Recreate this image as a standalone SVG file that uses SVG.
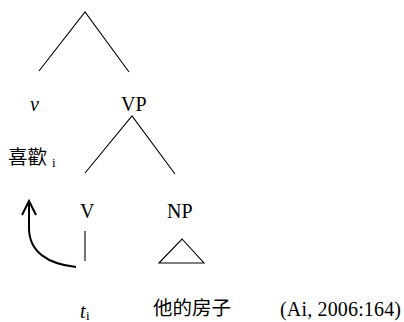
<svg xmlns="http://www.w3.org/2000/svg" width="404" height="322" viewBox="0 0 404 322">
<style>
.t{font-family:"Liberation Serif","Noto Sans CJK SC",serif;font-size:20px;fill:#000}
.c{font-family:"Liberation Serif","Noto Sans CJK SC",serif;font-size:19.5px;fill:#000}
.it{font-style:italic}
.sub{font-size:13px}
.ln{stroke:#000;stroke-width:1.1;fill:none}
.ar{stroke:#000;stroke-width:2;fill:none}
</style>
<rect width="404" height="322" fill="#fff"/>
<g id="connectors">
<path class="ln" d="M39,71 L85,12 L129,72"/>
<path class="ln" d="M85,173 L132,116 L175,174"/>
<path class="ln" d="M85,231 L85,261"/>
<path class="ar" d="M76,267 C48,264 29,252 29,228 L29,202"/>
<path class="ar" d="M22,215 L29,201 L36,215"/>
</g>
<g id="node-v"><text class="t it" x="30" y="111">v</text></g>
<g id="node-VP"><text class="t" x="121" y="111">VP</text></g>
<g id="node-xihuan"><text class="c" x="8" y="164">喜歡</text><text class="t sub" x="52" y="167">i</text></g>
<g id="node-V"><text class="t" x="80" y="218">V</text></g>
<g id="node-NP"><text class="t" x="167" y="218">NP</text>
<path class="ln" d="M159,263 L182,239 L204,263 Z"/></g>
<g id="node-t"><text class="t it" x="80" y="318">t</text><text class="t sub" x="86" y="320">i</text></g>
<g id="node-np-text"><text class="c" x="153" y="315">他的房子</text></g>
<g id="citation"><text class="t" x="280" y="316" textLength="121">(Ai, 2006:164)</text></g>
</svg>
